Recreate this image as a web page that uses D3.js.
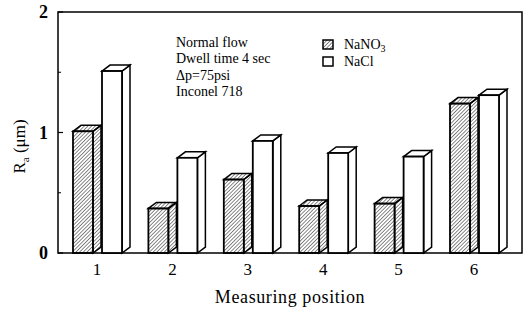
<!DOCTYPE html>
<meta charset="utf-8">
<script src="https://d3js.org/d3.v7.min.js"></script>
<style>
  body { margin: 0; background: #fff; }
</style>
<div id="my_dataviz"></div>
<script>
// data
var positions = ["1", "2", "3", "4", "5", "6"];
var nano3 = [1.01, 0.37, 0.61, 0.39, 0.41, 1.24];
var nacl = [1.51, 0.79, 0.93, 0.83, 0.80, 1.31];
var yTicks = [0, 1, 2];
var yMinor = [0.5, 1.5];
var notes = ["Normal flow", "Dwell time 4 sec", "\u0394p=75psi", "Inconel 718"];

var FONT = "Liberation Serif";
var W = 526, H = 316;
var margin = {top: 12, right: 4, bottom: 63, left: 58},
    width = W - margin.left - margin.right,
    height = H - margin.top - margin.bottom;

var svg = d3.select("#my_dataviz")
  .append("svg")
    .attr("width", W)
    .attr("height", H)
  .append("g")
    .attr("transform", "translate(" + margin.left + "," + margin.top + ")");

// hatch pattern for NaNO3
var defs = svg.append("defs");
defs.append("pattern")
    .attr("id", "hatch")
    .attr("patternUnits", "userSpaceOnUse")
    .attr("width", 2.6).attr("height", 2.6)
    .attr("patternTransform", "rotate(45)")
  .append("line")
    .attr("x1", 0).attr("y1", 0).attr("x2", 0).attr("y2", 2.6)
    .attr("stroke", "#111").attr("stroke-width", 1);

var x = d3.scalePoint()
    .domain(positions)
    .range([39, 416]);

var y = d3.scaleLinear()
    .domain([0, 2])
    .range([height, 0]);

// frame
svg.append("rect")
    .attr("x", 0).attr("y", 0)
    .attr("width", width).attr("height", height)
    .attr("fill", "none").attr("stroke", "#000").attr("stroke-width", 1.5);

// y ticks (inward)
svg.selectAll(".ytick").data(yTicks).enter().append("line")
    .attr("x1", 0).attr("x2", 5)
    .attr("y1", function(d) { return y(d); }).attr("y2", function(d) { return y(d); })
    .attr("stroke", "#000").attr("stroke-width", 1.2);
svg.selectAll(".yminor").data(yMinor).enter().append("line")
    .attr("x1", 0).attr("x2", 3)
    .attr("y1", function(d) { return y(d); }).attr("y2", function(d) { return y(d); })
    .attr("stroke", "#000").attr("stroke-width", 1);
svg.selectAll(".ylab").data(yTicks).enter().append("text")
    .attr("x", -10)
    .attr("y", function(d) { return y(d); })
    .attr("dy", "0.35em")
    .attr("text-anchor", "end")
    .style("font-family", FONT)
    .style("font-size", "18px")
    .style("font-weight", "bold")
    .text(function(d) { return d; });

// x tick labels
svg.selectAll(".xlab").data(positions).enter().append("text")
    .attr("x", function(d) { return x(d); })
    .attr("y", height + 22)
    .attr("text-anchor", "middle")
    .style("font-family", FONT)
    .style("font-size", "17px")
    .text(function(d) { return d; });

// 3D bars
var bw = 20, dx = 8, dy = 6;
function bar(g, x0, v, fill) {
  var top = y(v), base = y(0);
  var pts = function(a) { return a.map(function(p) { return p.join(","); }).join(" "); };
  g.append("polygon")
      .attr("points", pts([[x0 + bw, top], [x0 + bw + dx, top - dy], [x0 + bw + dx, base - dy], [x0 + bw, base]]))
      .attr("fill", fill).attr("stroke", "#000").attr("stroke-width", 1.5);
  g.append("polygon")
      .attr("points", pts([[x0, top], [x0 + dx, top - dy], [x0 + bw + dx, top - dy], [x0 + bw, top]]))
      .attr("fill", fill).attr("stroke", "#000").attr("stroke-width", 1.5);
  g.append("rect")
      .attr("x", x0).attr("y", top)
      .attr("width", bw).attr("height", base - top)
      .attr("fill", fill).attr("stroke", "#000").attr("stroke-width", 1.8);
}
var bars = svg.append("g");
positions.forEach(function(p, i) {
  bar(bars, x(p) - 24, nano3[i], "url(#hatch)");
  bar(bars, x(p) + 5, nacl[i], "#fff");
});

// notes
svg.selectAll(".note").data(notes).enter().append("text")
    .attr("x", 118)
    .attr("y", function(d, i) { return 35 + i * 16.3; })
    .style("font-family", FONT)
    .style("font-size", "14px")
    .text(function(d) { return d; });

// legend
var leg = svg.append("g").attr("transform", "translate(265,28)");
leg.append("rect").attr("x", 0).attr("y", 0).attr("width", 10).attr("height", 9)
    .attr("fill", "url(#hatch)").attr("stroke", "#000").attr("stroke-width", 1.5);
leg.append("rect").attr("x", 0).attr("y", 17).attr("width", 10).attr("height", 9)
    .attr("fill", "#fff").attr("stroke", "#000").attr("stroke-width", 1.5);
var t1 = leg.append("text").attr("x", 21).attr("y", 9)
    .style("font-family", FONT).style("font-size", "14px");
t1.append("tspan").text("NaNO");
t1.append("tspan").attr("dy", 3).style("font-size", "10px").text("3");
leg.append("text").attr("x", 21).attr("y", 26)
    .style("font-family", FONT).style("font-size", "14px").text("NaCl");

// axis titles
svg.append("text")
    .attr("x", 232)
    .attr("y", height + 50)
    .attr("text-anchor", "middle")
    .style("font-family", FONT)
    .style("font-size", "18px")
    .style("letter-spacing", "0.6px")
    .text("Measuring position");

var yl = svg.append("text")
    .attr("transform", "translate(-33," + (height / 2 + 14) + ") rotate(-90)")
    .attr("text-anchor", "middle")
    .style("font-family", FONT)
    .style("font-size", "17px");
yl.append("tspan").text("R");
yl.append("tspan").attr("dy", 4).style("font-size", "11px").text("a");
yl.append("tspan").attr("dy", -4).text(" (\u03bcm)");
</script>
